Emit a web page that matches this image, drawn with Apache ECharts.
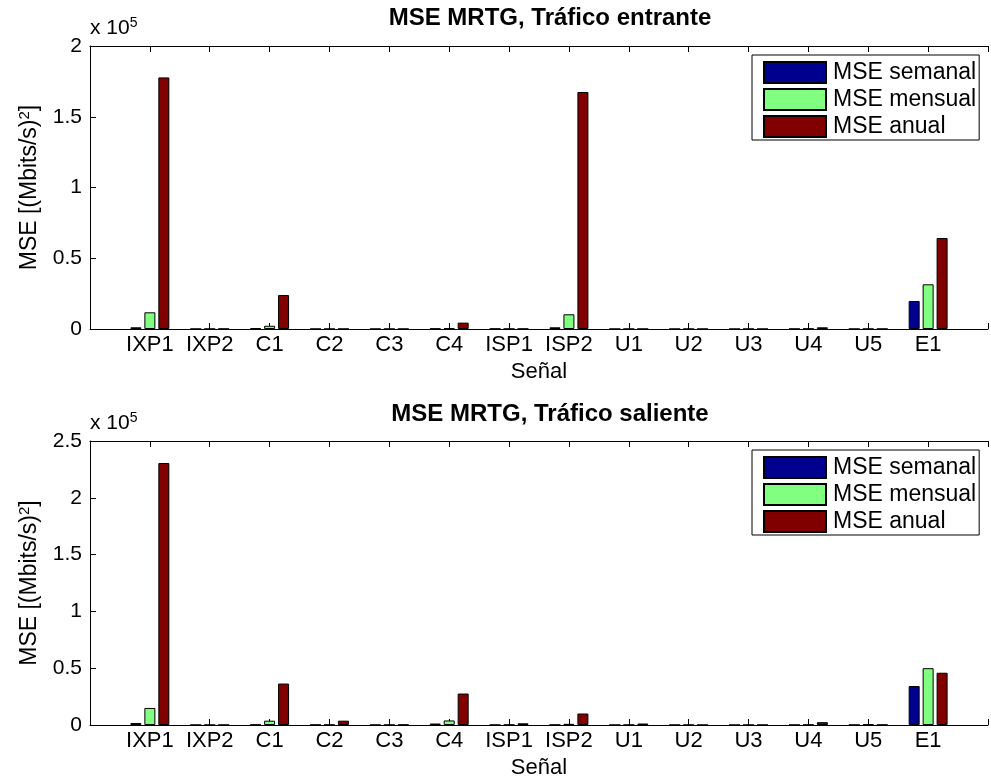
<!DOCTYPE html>
<html>
<head>
<meta charset="utf-8">
<title>MSE MRTG</title>
<script src="https://cdn.jsdelivr.net/npm/echarts@6/dist/echarts.min.js"></script>
<style>
  html, body { margin: 0; padding: 0; background: #fff; }
  #chart { width: 991px; height: 780px; }
</style>
</head>
<body>
<div id="chart"></div>
<script>
// categorías (señales)
var categories = ['IXP1', 'IXP2', 'C1', 'C2', 'C3', 'C4', 'ISP1', 'ISP2', 'U1', 'U2', 'U3', 'U4', 'U5', 'E1'];
var seriesNames = ['MSE semanal', 'MSE mensual', 'MSE anual'];

// tráfico entrante
var inSemanal = [1200, 60, 500, 40, 30, 300, 200, 1200, 30, 20, 20, 100, 40, 19800];
var inMensual = [11800, 80, 2300, 60, 40, 500, 100, 10400, 40, 30, 30, 200, 60, 31600];
var inAnual = [177800, 150, 24000, 80, 60, 4500, 150, 167500, 50, 40, 40, 1200, 80, 64300];

// tráfico saliente
var outSemanal = [1800, 50, 300, 200, 100, 1300, 100, 200, 50, 30, 30, 100, 100, 34300];
var outMensual = [15000, 80, 3800, 200, 100, 4000, 200, 1000, 100, 40, 40, 200, 500, 50000];
var outAnual = [230600, 100, 36500, 3800, 300, 27700, 1500, 10100, 1300, 60, 60, 2500, 200, 46000];

// eje y (x 10^5)
var yMaxIn = 200000, yMaxOut = 250000, yStep = 50000;

var colors = ['#00008f', '#80ff80', '#800000'];
var font = "'Liberation Sans', Arial, Helvetica, sans-serif";

// xlim [0, 15]: una categoría vacía a cada lado
var axisCats = [''].concat(categories, ['']);
function pad(arr) { return [null].concat(arr, [null]); }

var myChart = echarts.init(document.getElementById('chart'));

function xAxes(gridIndex) {
    return [{
        gridIndex: gridIndex,
        type: 'category',
        data: axisCats,
        boundaryGap: false,
        position: 'bottom',
        name: 'Señal',
        nameLocation: 'middle',
        nameGap: 32,
        nameTextStyle: { color: '#000', fontSize: 22, fontFamily: font },
        axisLine: { lineStyle: { color: '#000', width: 1 } },
        axisTick: { inside: true, length: 6, lineStyle: { color: '#000' } },
        axisLabel: { color: '#000', fontSize: 22, fontFamily: font, margin: 5, interval: 0 },
        splitLine: { show: false }
    }, {
        gridIndex: gridIndex,
        type: 'category',
        data: axisCats,
        boundaryGap: false,
        position: 'top',
        axisLine: { lineStyle: { color: '#000', width: 1 } },
        axisTick: { inside: true, length: 6, lineStyle: { color: '#000' } },
        axisLabel: { show: false },
        splitLine: { show: false }
    }];
}

function yAxis(gridIndex, max) {
    return {
        gridIndex: gridIndex,
        type: 'value',
        min: 0,
        max: max,
        interval: yStep,
        name: 'MSE [(Mbits/s){sup|2}]',
        nameLocation: 'middle',
        nameGap: 48,
        nameTextStyle: {
            color: '#000', fontSize: 23, fontFamily: font,
            rich: { sup: { fontSize: 15, verticalAlign: 'top', color: '#000', fontFamily: font, padding: [0, 0, 10, 0] } }
        },
        axisLine: { show: true, lineStyle: { color: '#000', width: 1 } },
        axisTick: { show: true, inside: true, length: 6, lineStyle: { color: '#000' } },
        axisLabel: {
            color: '#000', fontSize: 21, fontFamily: font, margin: 8,
            formatter: function (v) { return String(Math.round(v / 1e5 * 10) / 10); }
        },
        splitLine: { show: false }
    };
}

function bars(xIdx, yIdx, arrs) {
    return arrs.map(function (d, i) {
        return {
            name: seriesNames[i],
            type: 'bar',
            xAxisIndex: xIdx,
            yAxisIndex: yIdx,
            data: pad(d),
            barWidth: 11,
            barGap: '27%',
            itemStyle: { color: colors[i], borderColor: '#000', borderWidth: 1 },
            emphasis: { disabled: true }
        };
    });
}

function legend(top) {
    return {
        data: seriesNames,
        orient: 'vertical',
        left: 752,
        top: top,
        itemWidth: 62,
        itemHeight: 21,
        itemGap: 4,
        padding: [6, 3, 2, 11],
        borderColor: '#000',
        borderWidth: 1,
        backgroundColor: '#fff',
        icon: 'rect',
        selectedMode: false,
        textStyle: { color: '#000', fontSize: 23, lineHeight: 21, fontFamily: font, padding: [0, 0, 0, 2] }
    };
}

var expText = {
    type: 'text',
    style: {
        text: 'x 10{sup|5}',
        fill: '#000',
        font: '21px ' + font,
        rich: { sup: { fontSize: 14, verticalAlign: 'top', padding: [0, 0, 10, 0], fontFamily: font } }
    }
};

myChart.setOption({
    animation: false,
    color: colors,
    title: [{
        text: 'MSE MRTG, Tráfico entrante',
        left: 545, top: 1, textAlign: 'center',
        textStyle: { color: '#000', fontSize: 24, fontWeight: 'bold', fontFamily: font }
    }, {
        text: 'MSE MRTG, Tráfico saliente',
        left: 545, top: 397, textAlign: 'center',
        textStyle: { color: '#000', fontSize: 24, fontWeight: 'bold', fontFamily: font }
    }],
    legend: [legend(55), legend(450)],
    grid: [
        { left: 90, right: -9, top: 46, height: 283 },
        { left: 90, right: -9, top: 441, height: 284 }
    ],
    xAxis: xAxes(0).concat(xAxes(1)),
    yAxis: [yAxis(0, yMaxIn), yAxis(1, yMaxOut)],
    graphic: [
        Object.assign({ left: 90, top: 16 }, echarts.util.clone(expText)),
        Object.assign({ left: 90, top: 411 }, echarts.util.clone(expText))
    ],
    series: bars(0, 0, [inSemanal, inMensual, inAnual])
        .concat(bars(2, 1, [outSemanal, outMensual, outAnual]))
});

window.addEventListener('resize', function () {
    myChart.resize();
});
</script>
</body>
</html>
